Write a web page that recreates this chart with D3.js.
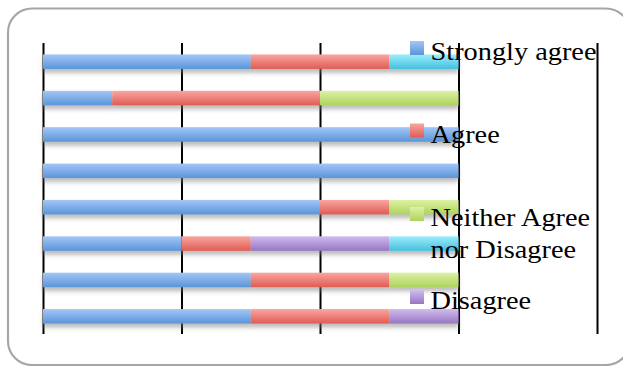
<!DOCTYPE html>
<html>
<head>
<meta charset="utf-8">
<script src="https://cdn.jsdelivr.net/npm/d3@7/dist/d3.min.js"></script>
<style>
  html, body { margin: 0; padding: 0; background: #fff; }
  svg { display: block; }
</style>
</head>
<body>
<svg id="chart" width="623" height="366"></svg>
<script>
const categories = ["Item 1", "Item 2", "Item 3", "Item 4", "Item 5", "Item 6", "Item 7", "Item 8"];
const seriesNames = ["Strongly agree", "Agree", "Neither Agree nor Disagree", "Disagree", "Strongly Disagree"];
const stronglyAgree    = [3, 1, 6, 6, 4, 2, 3, 3];
const agree            = [2, 3, 0, 0, 1, 1, 2, 2];
const neither          = [0, 2, 0, 0, 1, 0, 1, 0];
const disagree         = [0, 0, 0, 0, 0, 2, 0, 1];
const stronglyDisagree = [1, 0, 0, 0, 0, 1, 0, 0];
const tickValues = [0, 2, 4, 6, 8];
// legend entries visible in the reference (the fifth is cut off by the frame)
const legendLines = [["Strongly agree"], ["Agree"], ["Neither Agree", "nor Disagree"], ["Disagree"]];

const seriesValues = [stronglyAgree, agree, neither, disagree, stronglyDisagree];
const colors = [
  ["#a3c6f7", "#5a95d9"],
  ["#f9a6a0", "#df5c53"],
  ["#dcf2a4", "#afd25e"],
  ["#d0bcee", "#9676c2"],
  ["#9ceefb", "#44bfdf"]
];

const svg = d3.select("#chart");
const defs = svg.append("defs");
colors.forEach((c, i) => {
  const g = defs.append("linearGradient").attr("id", "grad" + i)
    .attr("x1", 0).attr("y1", 0).attr("x2", 0).attr("y2", 1);
  g.append("stop").attr("offset", "0%").attr("stop-color", c[0]);
  g.append("stop").attr("offset", "100%").attr("stop-color", c[1]);
});
const f = defs.append("filter").attr("id", "shadow")
  .attr("x", "-5%").attr("y", "-50%").attr("width", "110%").attr("height", "250%");
f.append("feDropShadow").attr("dx", 0).attr("dy", 4).attr("stdDeviation", 2)
  .attr("flood-color", "#7a7a7a").attr("flood-opacity", 0.5);

// chart border
svg.append("rect")
  .attr("x", 8).attr("y", 8.5).attr("width", 622).attr("height", 356.5)
  .attr("rx", 24).attr("ry", 24)
  .attr("fill", "#fff").attr("stroke", "#a6a6a6").attr("stroke-width", 2.2);

const x = d3.scaleLinear().domain([0, 8]).range([43, 597]);
const y = d3.scaleBand().domain(categories).range([43, 334]).padding(0);
const barH = 14.5;

// gridlines
const grid = svg.append("g")
  .attr("transform", "translate(0,334)")
  .call(d3.axisBottom(x).tickValues(tickValues).tickSize(-(334 - 43)).tickFormat(""));
grid.select(".domain").remove();
grid.selectAll(".tick line").attr("stroke", "#000").attr("stroke-width", 2);

// stacked data
const rows = categories.map((c, i) => {
  const o = { cat: c };
  seriesNames.forEach((s, j) => { o[s] = seriesValues[j][i]; });
  return o;
});
const stacked = d3.stack().keys(seriesNames)(rows);

const bars = svg.append("g").attr("filter", "url(#shadow)");
stacked.forEach((layer, j) => {
  bars.selectAll(null)
    .data(layer.filter(d => d[1] - d[0] > 0))
    .enter().append("rect")
    .attr("x", d => x(d[0]))
    .attr("width", d => x(d[1]) - x(d[0]))
    .attr("y", d => y(d.data.cat) + (y.bandwidth() - barH) / 2 + 0.5)
    .attr("height", barH)
    .attr("fill", "url(#grad" + j + ")");
});

// legend
const legendY = [48, 130.5, 214, 297];
const legend = svg.append("g");
legendLines.forEach((lines, i) => {
  const g = legend.append("g");
  g.append("rect").attr("x", 410).attr("y", legendY[i] - 7).attr("width", 14).attr("height", 14)
    .attr("fill", "url(#grad" + i + ")");
  lines.forEach((t, k) => {
    g.append("text")
      .attr("transform", `translate(430.5,${legendY[i] + 12 + k * 31.5}) scale(1.09,1)`)
      .attr("font-family", "Liberation Serif, serif")
      .attr("font-size", 26)
      .attr("fill", "#000")
      .text(t);
  });
});
</script>
</body>
</html>
